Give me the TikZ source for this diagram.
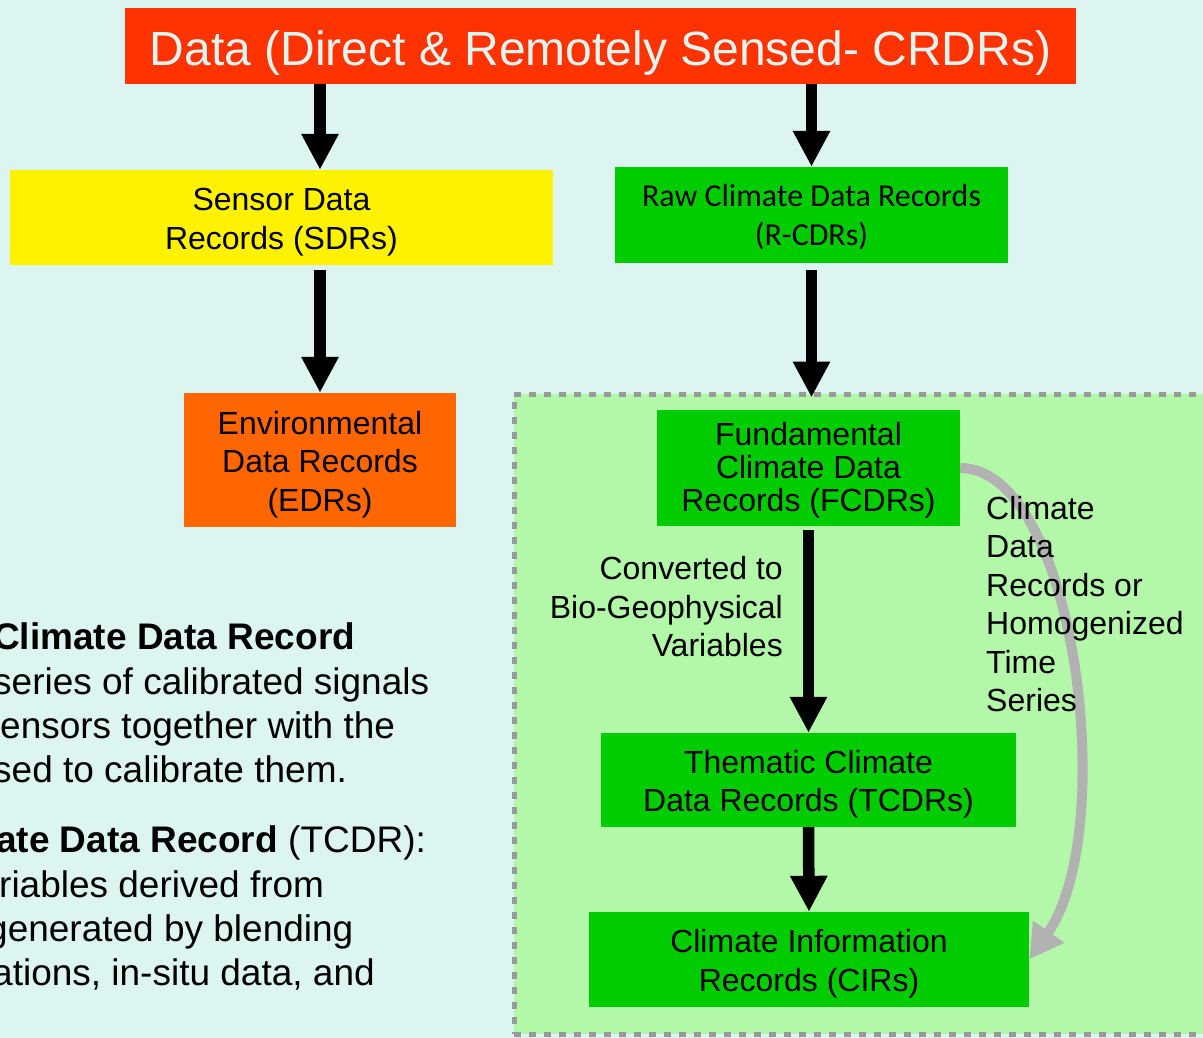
\documentclass[tikz,border=0pt]{standalone}
\usepackage{fontspec}
\setmainfont{Liberation Sans}
\newfontfamily\calibrifont{Carlito}
\usetikzlibrary{arrows.meta}
\definecolor{bgcyan}{RGB}{221,245,240}
\definecolor{zonegreen}{RGB}{179,247,168}
\definecolor{boxgreen}{RGB}{0,204,0}
\definecolor{titlered}{RGB}{255,51,0}
\definecolor{edrorange}{RGB}{255,102,0}
\definecolor{curvegray}{RGB}{178,178,178}
\definecolor{dashgray}{RGB}{153,153,153}
\newcommand{\upstrut}[1][1em]{\rule{0pt}{#1}}

\begin{document}
\begin{tikzpicture}[x=1pt,y=-1pt,
    rec/.style={inner sep=0pt,align=center,font=\fontsize{32}{38.5}\selectfont},
    flow/.style={line width=11.5pt,-{Triangle[width=35pt,length=36pt]}},
    note/.style={inner sep=0pt,anchor=base west,font=\fontsize{37}{44}\selectfont}]
         \useasboundingbox (0,0) rectangle (1203,1038) ;
         \fill[bgcyan] (0,0) rectangle (1203,1038) ;
         %\draw[very thin,gray,step=50] (0,0) grid (1203,1038) ;
         \node[draw=dashgray,fill=zonegreen,line width=5pt,dash pattern=on 7pt off 8pt,
               minimum width=696pt,minimum height=640pt,inner sep=0pt] (zone) at (862,714) {} ;
         \node[rec,fill=titlered,text=bgcyan,minimum width=951pt,minimum height=76pt,
               font=\fontsize{48}{57}\selectfont] (title) at (600.5,46)
               {\upstrut Data (Direct \& Remotely Sensed- CRDRs)} ;
         \node[rec,fill=yellow,minimum width=543pt,minimum height=95pt] (sdr) at (281.5,217.5)
               {\upstrut Sensor Data\\Records (SDRs)} ;
         \node[rec,fill=boxgreen,minimum width=393pt,minimum height=96pt,
               font=\calibrifont\fontsize{32}{39}\selectfont] (rcdr) at (811.5,215)
               {\upstrut[0.85em]Raw Climate Data Records\\(R-CDRs)} ;
         \node[rec,fill=edrorange,minimum width=272pt,minimum height=134pt] (edr) at (320,460)
               {\upstrut Environmental\\Data Records\\(EDRs)} ;
         \node[rec,fill=boxgreen,minimum width=303pt,minimum height=116pt,
               font=\fontsize{32}{33}\selectfont] (fcdr) at (808.5,468)
               {\upstrut[0.85em]Fundamental\\Climate Data\\Records (FCDRs)} ;
         \node[rec,fill=boxgreen,minimum width=415pt,minimum height=94pt] (tcdr) at (808.5,780)
               {\upstrut Thematic Climate\\Data Records (TCDRs)} ;
         \node[rec,fill=boxgreen,minimum width=440pt,minimum height=95pt] (cir) at (809,959.5)
               {\upstrut Climate Information\\Records (CIRs)} ;
         \draw[flow] (title.south -| edr.north) -- (sdr.north -| edr.north) ;
         \draw[flow] (title.south -| rcdr.north) -- (rcdr.north) ;
         \draw[flow,shorten <=5pt] (sdr.south -| edr.north) -- (edr.north) ;
         \draw[flow,shorten <=7pt,shorten >=-6pt] (rcdr.south) -- (zone.north -| rcdr.south) ;
         \draw[flow,shorten <=4pt] (fcdr.south) -- (tcdr.north) ;
         \draw[flow] (tcdr.south) -- (cir.north) ;
         \draw[curvegray,line width=10pt,-{Triangle[width=36pt,length=34pt]}]
               (fcdr.east) .. controls (1075,468) and (1120,830) .. (cir.east) ;
         \node[inner sep=0pt,align=right,anchor=east,font=\fontsize{32}{38.5}\selectfont]
               (conv) at (783,607) {Converted to\\Bio-Geophysical\\Variables} ;
         \node[inner sep=0pt,align=left,anchor=west,font=\fontsize{32}{38.5}\selectfont]
               (homog) at (986,604) {Climate\\Data\\Records or\\Homogenized\\Time\\Series} ;
         \node[note] (fcdrdef) at (-7,649) {\bfseries Climate Data Record} ;
         \node[note] (fcdrdef2) at (-7,694) {series of calibrated signals} ;
         \node[note] (fcdrdef3) at (0,738) {ensors together with the} ;
         \node[note] (fcdrdef4) at (-7,782) {sed to calibrate them.} ;
         \node[note] (tcdrdef) at (-4,852) {\textbf{ate Data Record} (TCDR):} ;
         \node[note] (tcdrdef2) at (-1,897) {riables derived from} ;
         \node[note] (tcdrdef3) at (-13,941) {generated by blending} ;
         \node[note] (tcdrdef4) at (-8,985) {ations, in-situ data, and} ;
       \end{tikzpicture}
\end{document}
